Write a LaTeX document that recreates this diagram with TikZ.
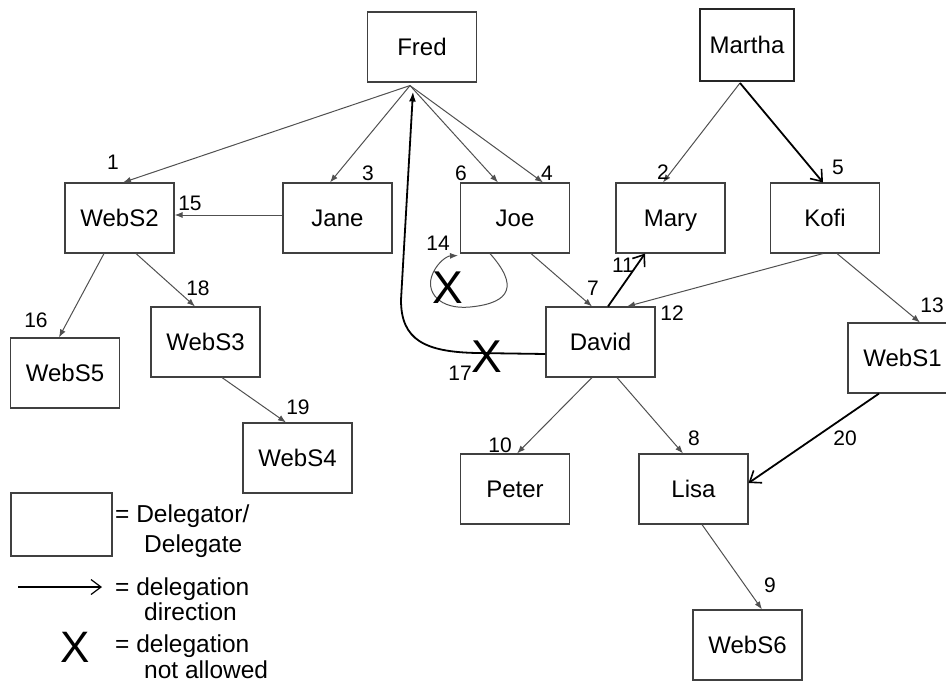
\documentclass[tikz,border=0pt]{standalone}
\usepackage{fontspec}
\setmainfont{Liberation Sans}
\usetikzlibrary{arrows.meta}
\definecolor{boxgray}{HTML}{404040}
\definecolor{linegray}{HTML}{505050}
\begin{document}
\begin{tikzpicture}[x=1pt,y=-1pt,
  box/.style={draw=boxgray, line width=1.1pt, minimum width=109pt, minimum height=70pt,
    inner sep=0pt, text height=18pt, text depth=2pt, font=\fontsize{24}{28}\selectfont},
  num/.style={inner sep=0pt, font=\fontsize{21}{24}\selectfont},
  legtext/.style={inner sep=0pt, anchor=base west, font=\fontsize{24.5}{28}\selectfont},
  cross/.style={inner sep=0pt, font=\fontsize{46}{50}\selectfont},
  thinarrow/.style={draw=linegray, line width=1pt, -{Latex[length=8pt,width=6pt]}},
  boldarrow/.style={draw=black, line width=1.8pt, -{Straight Barb[length=10pt,width=15pt,line width=1.6pt]}},
  boldfilled/.style={draw=black, line width=1.8pt, -{Latex[length=10pt,width=7pt]}}
]
\useasboundingbox (0,0) rectangle (946,683);
\clip (0,0) rectangle (946,683);

% principals and services
\node[box] (Fred)   at (422,47)   {Fred};
\node[box, minimum width=94pt, minimum height=72pt, line width=2pt, draw=black!85] (Martha) at (747,45) {Martha};
\node[box] (WebS2)  at (119.5,218) {WebS2};
\node[box] (Jane)   at (337.5,218) {Jane};
\node[box] (Joe)    at (515,218)   {Joe};
\node[box] (Mary)   at (670.5,218) {Mary};
\node[box] (Kofi)   at (825,218)   {Kofi};
\node[box] (David)  at (600.5,342) {David};
\node[box] (WebS1)  at (902.5,358) {WebS1};
\node[box] (WebS5)  at (65,373)    {WebS5};
\node[box] (WebS3)  at (205.5,342) {WebS3};
\node[box] (WebS4)  at (297.5,458) {WebS4};
\node[box] (Peter)  at (515,489)   {Peter};
\node[box] (Lisa)   at (693.5,489) {Lisa};
\node[box] (WebS6)  at (747.5,645) {WebS6};

% common start points of the fan-out edges
\coordinate (Fsrc) at ([xshift=-12pt,yshift=-3pt]Fred.south);
\coordinate (Msrc) at ([xshift=-7pt,yshift=-1pt]Martha.south);

% delegations
\draw[thinarrow] (Fsrc) -- ([xshift=3.5pt]WebS2.north);
\draw[thinarrow] (Fsrc) -- ([xshift=-7.5pt]Jane.north);
\draw[thinarrow] (Fsrc) -- ([xshift=-17pt]Joe.north);
\draw[thinarrow] (Fsrc) -- ([xshift=28pt]Joe.north);
\draw[thinarrow] (Msrc) -- ([xshift=-7.5pt]Mary.north);
\draw[boldarrow] (Msrc) -- ([xshift=-2pt]Kofi.north);
\draw[thinarrow] ([yshift=3pt]Jane.west) -- ([yshift=3pt]WebS2.east);
\draw[thinarrow] ([xshift=-15.5pt]WebS2.south) -- ([xshift=-6pt]WebS5.north);
\draw[thinarrow] ([xshift=16.5pt]WebS2.south) -- ([xshift=-10.5pt]WebS3.north);
\draw[thinarrow] ([xshift=16.5pt]WebS3.south) -- ([xshift=-11.5pt]WebS4.north);
\draw[thinarrow] ([xshift=16pt]Joe.south) -- ([xshift=-8.5pt]David.north);
\draw[boldarrow] ([xshift=7.5pt]David.north) -- ([xshift=-25.5pt]Mary.south);
\draw[thinarrow] ([xshift=-2pt]Kofi.south) -- ([xshift=26.5pt]David.north);
\draw[thinarrow] ([xshift=12pt]Kofi.south) -- ([xshift=17.5pt]WebS1.north);
\draw[thinarrow] ([xshift=-8.5pt]David.south) -- ([xshift=2pt]Peter.north);
\draw[thinarrow] ([xshift=16.5pt]David.south) -- ([xshift=-10.5pt]Lisa.north);
\draw[thinarrow] ([xshift=8.5pt]Lisa.south) -- ([xshift=14.5pt]WebS6.north);
\draw[boldarrow] ([xshift=-23.5pt]WebS1.south) -- ([yshift=6pt]Lisa.east);

% disallowed delegations
\draw[boldfilled] ([yshift=-12pt]David.west) -- (477,353)
  .. controls (425,352) and (401,340) .. (401,300)
  -- ([xshift=-9pt,yshift=-9pt]Fred.south);
\draw[thinarrow] ([xshift=-25pt]Joe.south)
  .. controls (518,285) and (512,303) .. (470,307)
  .. controls (440,310) and (424,292) .. (433,273)
  .. controls (438,262) and (447,256) .. ([xshift=-57pt,yshift=-2pt]Joe.south);
\node[cross] (x17) at (487,357) {X};
\node[cross] (x14) at (448,288) {X};

% sequence numbers
\node[num] (n1)  at (113,162) {1};
\node[num] (n2)  at (663,172) {2};
\node[num] (n3)  at (368,173) {3};
\node[num] (n4)  at (547,173) {4};
\node[num] (n5)  at (838,167) {5};
\node[num] (n6)  at (461,173) {6};
\node[num] (n7)  at (593,288) {7};
\node[num] (n8)  at (694,438) {8};
\node[num] (n9)  at (770,585) {9};
\node[num] (n10) at (500,445) {10};
\node[num] (n11) at (623,265) {11};
\node[num] (n12) at (672,313) {12};
\node[num] (n13) at (932,305) {13};
\node[num] (n14) at (438,243) {14};
\node[num] (n15) at (190,203) {15};
\node[num] (n16) at (36,320)  {16};
\node[num] (n17) at (460,373) {17};
\node[num] (n18) at (198,288) {18};
\node[num] (n19) at (298,407) {19};
\node[num] (n20) at (845,438) {20};

% legend
\node[box, minimum width=101pt, minimum height=63pt] (legbox) at (61.5,524.5) {};
\coordinate (legA) at (18,587);
\coordinate (legB) at (102,587);
\draw[draw=black, line width=1.3pt, -{Straight Barb[length=10pt,width=15pt,line width=1.2pt]}] (legA) -- (legB);
\node[cross, font=\fontsize{44}{48}\selectfont] (legX) at (75,647) {X};
\node[legtext] (t1) at (115,522) {= Delegator/};
\node[legtext] (t2) at (144,552) {Delegate};
\node[legtext] (t3) at (115,595) {= delegation};
\node[legtext] (t4) at (144,620) {direction};
\node[legtext] (t5) at (115,652) {= delegation};
\node[legtext] (t6) at (144,678) {not allowed};
\end{tikzpicture}
\end{document}
